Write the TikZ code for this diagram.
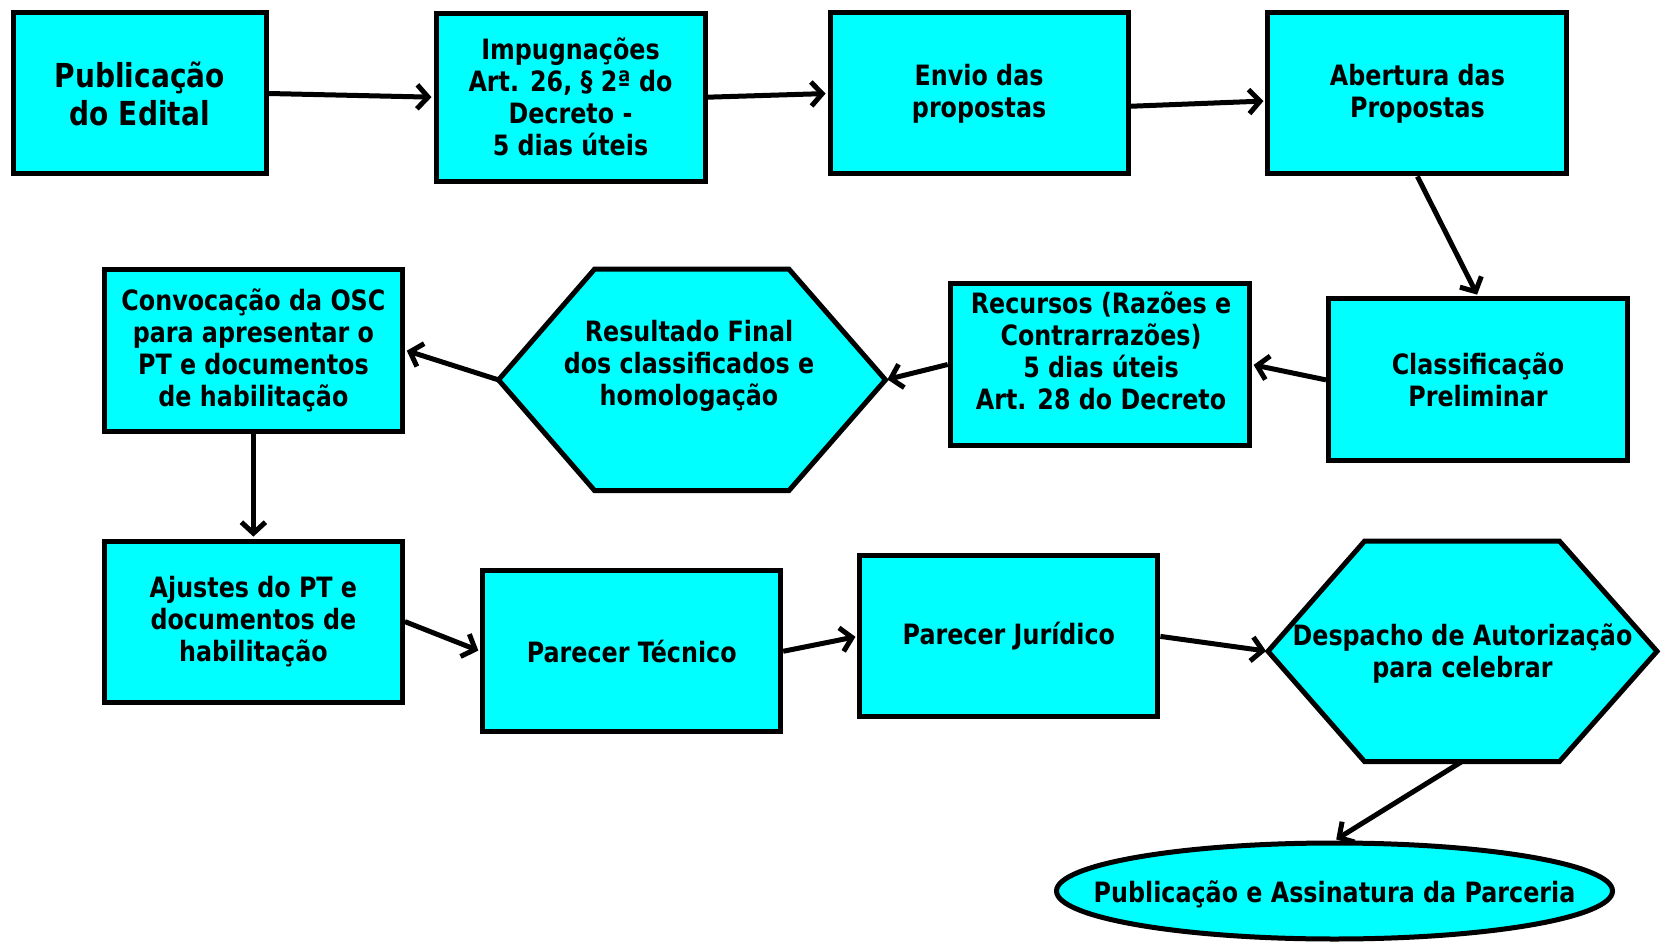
\documentclass[tikz,border=0pt]{standalone}
\usepackage{fontspec}
\setmainfont{DejaVu Sans}[FakeStretch=0.85]
\usetikzlibrary{arrows.meta,shapes.geometric}
\definecolor{boxcyan}{RGB}{0,255,255}
\begin{document}
\begin{tikzpicture}[x=1pt,y=-1pt,
  every node/.style={font=\bfseries\fontsize{28}{32}\selectfont, align=center},
  box/.style={draw=black, fill=boxcyan, line width=5pt, rectangle, inner sep=0pt},
  plain/.style={inner sep=0pt},
  hexline/.style={draw=black, fill=boxcyan, line width=5pt, line join=miter},
  conn/.style={line width=5pt, -{Straight Barb[length=11pt,width=24pt]}, shorten >=2pt},
]
\useasboundingbox (0,0) rectangle (1666,944);

% top row
\node[box, minimum width=253pt, minimum height=161pt, font=\bfseries\fontsize{33}{38}\selectfont] (pub) at (139.7,93.5) {Publicação\\do Edital};
\node[box, minimum width=269pt, minimum height=168pt] (imp) at (570.5,97.2) {Impugnações\\Art. 26, § 2ª do\\Decreto -\\5 dias úteis};
\node[box, minimum width=298pt, minimum height=161pt] (env) at (979.1,93.5) {Envio das\\propostas};
\node[box, minimum width=299pt, minimum height=161pt] (abe) at (1417.4,93.5) {Abertura das\\Propostas};

% middle row
\node[box, minimum width=299pt, minimum height=162pt] (cla) at (1478,379.9) {Classificação\\Preliminar};
\node[box, minimum width=299pt, minimum height=161pt] (rec) at (1099.7,364.5) {};
\node[plain] (rectext) at (1101,350.6) {Recursos (Razões e\\Contrarrazões)\\5 dias úteis\\Art. 28 do Decreto};

\coordinate (resW) at (498.5,379.9);
\coordinate (resE) at (885.5,379.9);
\draw[hexline] (resW) -- (594.5,269.2) -- (789,269.2) -- (resE) -- (789,490.5) -- (594.5,490.5) -- cycle;
\node[plain] (res) at (689,365.5) {Resultado Final\\dos classificados e\\homologação};

\node[box, minimum width=298pt, minimum height=162pt] (conv) at (253.4,350.1) {Convocação da OSC\\para apresentar o\\PT e documentos\\de habilitação};

% bottom row
\node[box, minimum width=298pt, minimum height=161pt] (aju) at (253.4,621.6) {Ajustes do PT e\\documentos de\\habilitação};
\node[box, minimum width=298pt, minimum height=161pt] (tec) at (631.7,651.3) {Parecer Técnico};
\node[box, minimum width=298pt, minimum height=161pt] (jur) at (1008.9,636.4) {Parecer Jurídico};

\coordinate (desW) at (1268,651.3);
\coordinate (desE) at (1657,651.3);
\coordinate (desS) at (1462,761.5);
\draw[hexline] (desW) -- (1364.5,541.2) -- (1559.5,541.2) -- (desE) -- (1559.5,761.5) -- (desS) -- (1364.5,761.5) -- cycle;
\node[plain] (des) at (1462.5,653.4) {Despacho de Autorização\\para celebrar};

\node[draw=black, fill=boxcyan, line width=5pt, ellipse, inner sep=0pt, minimum width=556pt, minimum height=96pt] (ell) at (1334.5,891) {};
\node[plain] (elltext) at (1334.5,894.6) {Publicação e Assinatura da Parceria};

% connectors
\draw[conn] (pub.east) -- (imp.west);
\draw[conn] (imp.east) -- (env.west);
\draw[conn] ([yshift=-12.75pt]env.east) -- ([yshift=-7.5pt]abe.west);
\draw[conn] (abe.south) -- (cla.north);
\draw[conn] (cla.west) -- (rec.east);
\draw[conn] (rec.west) -- (resE);
\draw[conn] (resW) -- (conv.east);
\draw[conn] (conv.south) -- (aju.north);
\draw[conn] (aju.east) -- (tec.west);
\draw[conn] (tec.east) -- (jur.west);
\draw[conn] (jur.east) -- (desW);
\draw[conn] (desS) -- (ell.north);
\end{tikzpicture}
\end{document}
